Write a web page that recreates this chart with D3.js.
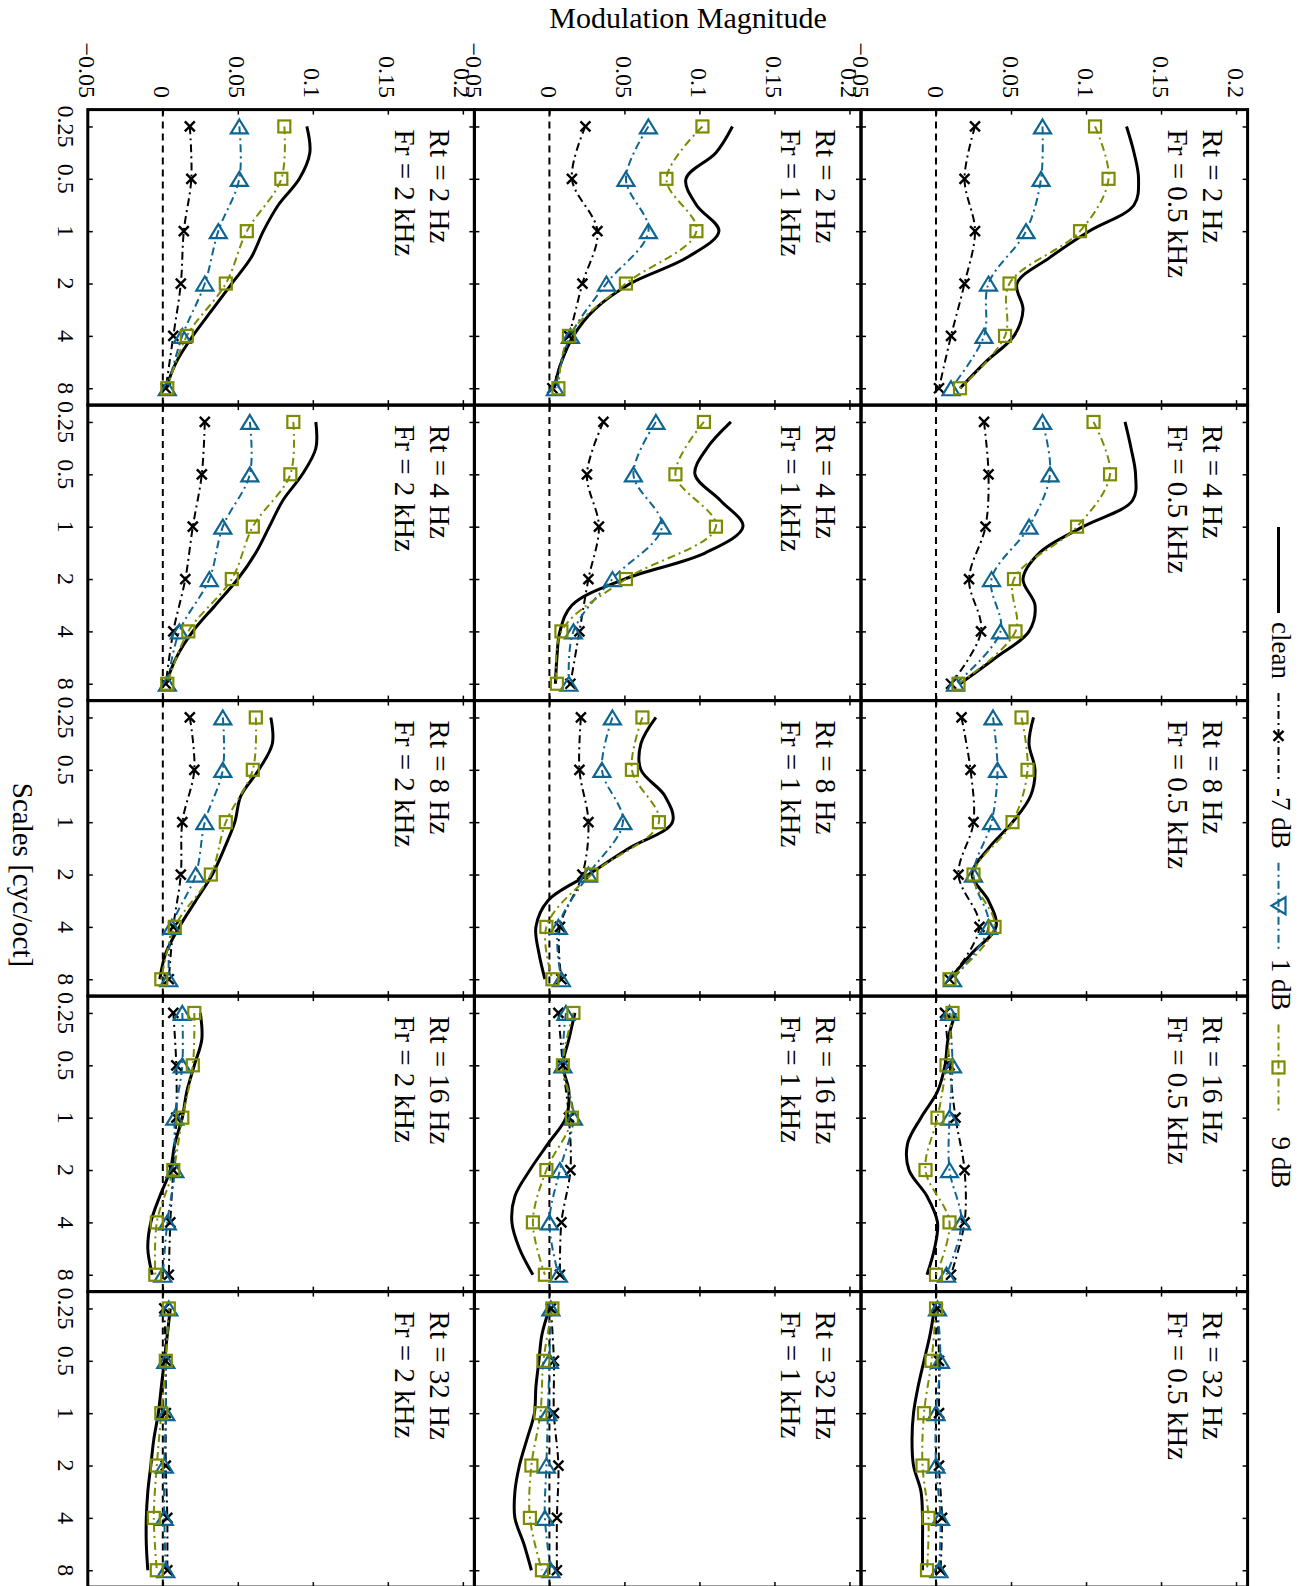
<!DOCTYPE html>
<html>
<head>
<meta charset="utf-8">
<script src="https://cdn.jsdelivr.net/npm/d3@7"></script>
<style>
    body { margin: 0; background: #fff; }
    text { font-family: "Liberation Serif", "Times New Roman", serif; fill: #000; }
</style>
</head>
<body>
<svg id="chart" width="1311" height="1586"></svg>
<script>
// Scales (cyc/oct) where the noisy conditions were measured, and the denser grid of the clean curve
var scales = [0.25, 0.5, 1, 2, 4, 8];
var cleanScales = [0.25, 0.354, 0.5, 0.707, 1, 1.414, 2, 2.828, 4, 5.657, 8];
var scaleLabels = ['0.25', '0.5', '1', '2', '4', '8'];

var rtLabels = ['Rt = 2 Hz', 'Rt = 4 Hz', 'Rt = 8 Hz', 'Rt = 16 Hz', 'Rt = 32 Hz'];
var frLabels = ['Fr = 0.5 kHz', 'Fr = 1 kHz', 'Fr = 2 kHz'];

var magTicks = [-0.05, 0, 0.05, 0.1, 0.15, 0.2];
var magTickLabels = ['\u22120.05', '0', '0.05', '0.1', '0.15', '0.2'];

var seriesNames = ['clean', '-7 dB', '1 dB', '9 dB'];

// values indexed [Fr][Rt][scale]
var clean = [
    [
        [0.127, 0.132, 0.135, 0.132, 0.102, 0.076, 0.054, 0.058, 0.052, 0.033, 0.016],
        [0.126, 0.130, 0.133, 0.131, 0.098, 0.069, 0.058, 0.066, 0.062, 0.040, 0.016],
        [0.065, 0.062, 0.066, 0.063, 0.051, 0.035, 0.024, 0.035, 0.040, 0.024, 0.009],
        [0.013, 0.008, 0.006, 0.001, -0.010, -0.019, -0.018, -0.006, 0.001, -0.001, -0.006],
        [-0.001, -0.004, -0.008, -0.012, -0.015, -0.016, -0.015, -0.010, -0.009, -0.009, -0.009]
    ],
    [
        [0.122, 0.111, 0.091, 0.098, 0.113, 0.092, 0.054, 0.030, 0.016, 0.008, 0.003],
        [0.121, 0.105, 0.097, 0.114, 0.129, 0.104, 0.050, 0.015, 0.007, 0.005, 0.004],
        [0.071, 0.061, 0.061, 0.077, 0.082, 0.053, 0.026, -0.001, -0.009, -0.007, -0.003],
        [0.017, 0.013, 0.009, 0.013, 0.011, -0.001, -0.013, -0.023, -0.025, -0.020, -0.011],
        [0.000, -0.005, -0.007, -0.009, -0.010, -0.015, -0.020, -0.023, -0.023, -0.017, -0.012]
    ],
    [
        [0.096, 0.098, 0.091, 0.077, 0.067, 0.059, 0.046, 0.033, 0.020, 0.009, 0.002],
        [0.102, 0.102, 0.093, 0.080, 0.071, 0.062, 0.050, 0.035, 0.020, 0.009, 0.002],
        [0.072, 0.073, 0.064, 0.052, 0.048, 0.041, 0.033, 0.022, 0.011, 0.002, -0.002],
        [0.025, 0.026, 0.021, 0.016, 0.013, 0.008, 0.005, -0.002, -0.008, -0.010, -0.007],
        [0.005, 0.003, 0.001, -0.001, -0.003, -0.006, -0.008, -0.010, -0.011, -0.011, -0.010]
    ]
];

var minus7dB = [
    [
        [0.026, 0.019, 0.026, 0.019, 0.010, 0.002],
        [0.032, 0.035, 0.033, 0.022, 0.030, 0.010],
        [0.017, 0.023, 0.025, 0.015, 0.029, 0.009],
        [0.006, 0.009, 0.013, 0.019, 0.019, 0.010],
        [0.001, 0.002, 0.002, 0.002, 0.004, 0.003]
    ],
    [
        [0.024, 0.015, 0.032, 0.022, 0.013, 0.002],
        [0.036, 0.025, 0.033, 0.026, 0.020, 0.014],
        [0.021, 0.020, 0.026, 0.022, 0.007, 0.008],
        [0.006, 0.009, 0.013, 0.014, 0.008, 0.007],
        [0.001, 0.003, 0.003, 0.006, 0.005, 0.005]
    ],
    [
        [0.018, 0.019, 0.014, 0.012, 0.007, 0.002],
        [0.028, 0.026, 0.020, 0.015, 0.007, 0.002],
        [0.018, 0.021, 0.013, 0.012, 0.007, 0.004],
        [0.007, 0.009, 0.009, 0.007, 0.005, 0.004],
        [0.001, 0.002, 0.002, 0.002, 0.003, 0.003]
    ]
];

var plus1dB = [
    [
        [0.071, 0.070, 0.060, 0.035, 0.032, 0.010],
        [0.071, 0.076, 0.062, 0.037, 0.043, 0.013],
        [0.038, 0.041, 0.037, 0.025, 0.035, 0.011],
        [0.009, 0.011, 0.009, 0.009, 0.017, 0.007],
        [0.001, 0.003, 0.000, 0.000, 0.003, 0.002]
    ],
    [
        [0.066, 0.051, 0.066, 0.038, 0.014, 0.004],
        [0.071, 0.056, 0.075, 0.042, 0.016, 0.013],
        [0.042, 0.035, 0.049, 0.026, 0.006, 0.008],
        [0.011, 0.009, 0.016, 0.007, 0.000, 0.006],
        [0.001, 0.000, -0.001, -0.002, -0.003, 0.001]
    ],
    [
        [0.051, 0.051, 0.037, 0.028, 0.013, 0.003],
        [0.058, 0.058, 0.040, 0.031, 0.011, 0.003],
        [0.040, 0.040, 0.028, 0.022, 0.006, 0.004],
        [0.013, 0.013, 0.008, 0.008, 0.003, 0.000],
        [0.004, 0.002, 0.002, 0.001, 0.001, 0.002]
    ]
];

var plus9dB = [
    [
        [0.106, 0.115, 0.096, 0.049, 0.046, 0.016],
        [0.105, 0.116, 0.094, 0.052, 0.053, 0.015],
        [0.057, 0.061, 0.051, 0.025, 0.039, 0.009],
        [0.011, 0.007, 0.001, -0.007, 0.009, 0.000],
        [0.000, -0.003, -0.008, -0.009, -0.005, -0.006]
    ],
    [
        [0.102, 0.078, 0.098, 0.051, 0.013, 0.006],
        [0.103, 0.084, 0.111, 0.051, 0.008, 0.005],
        [0.062, 0.055, 0.073, 0.028, -0.002, 0.002],
        [0.016, 0.009, 0.015, -0.002, -0.011, -0.003],
        [0.002, -0.004, -0.006, -0.012, -0.013, -0.005]
    ],
    [
        [0.081, 0.079, 0.056, 0.042, 0.016, 0.003],
        [0.087, 0.085, 0.060, 0.046, 0.017, 0.003],
        [0.062, 0.060, 0.042, 0.032, 0.008, -0.001],
        [0.021, 0.020, 0.013, 0.007, -0.004, -0.005],
        [0.004, 0.002, -0.001, -0.004, -0.006, -0.004]
    ]
];

// The figure is drawn turned a quarter clockwise: magnitude runs left to right,
// scale runs top to bottom, Fr columns go right to left.
var o = {
    colLeft: 87.8,
    colW: 386.6,
    rowTop: 109.6,
    rowH: 295.5,
    tick: 5
};

var blue = '#0e6591';
var olive = '#7d8b00';

var styles = [
    {color: '#000', width: 3, dash: null, marker: null},
    {color: '#000', width: 2, dash: '8,4,2,4', marker: 'x'},
    {color: blue, width: 2, dash: '8,4,2,4', marker: 'tri'},
    {color: olive, width: 2, dash: '8,4,2,4', marker: 'sq'}
];

var svg = d3.select('#chart');

function drawMarker(g, type, color, x, y, legend) {
    if (type === 'x') {
        g.append('path')
            .attr('d', 'M-5,-5L5,5M-5,5L5,-5')
            .attr('transform', 'translate(' + x + ',' + y + ')')
            .attr('stroke', color).attr('stroke-width', 2.4).attr('fill', 'none');
    } else if (type === 'tri') {
        // legend triangle points the other way in the reference
        var d = legend ? 'M-7,0L7,-8.5L7,8.5Z' : 'M0,-7L8.5,7L-8.5,7Z';
        g.append('path')
            .attr('d', d)
            .attr('transform', 'translate(' + x + ',' + y + ')')
            .attr('stroke', color).attr('stroke-width', 2.2).attr('fill', 'none');
    } else if (type === 'sq') {
        g.append('rect')
            .attr('x', x - 6).attr('y', y - 6)
            .attr('width', 12).attr('height', 12)
            .attr('stroke', color).attr('stroke-width', 2.2).attr('fill', 'none');
    }
}

function panel(fi, ri) {
    var left = o.colLeft + (2 - fi) * o.colW;
    var top = o.rowTop + ri * o.rowH;

    var mag = d3.scaleLinear().domain([-0.05, 0.2077]).range([left, left + o.colW]);
    var sc = d3.scaleLog().base(2).domain([0.2, 10]).range([top, top + o.rowH]);

    var g = svg.append('g');

    // inward ticks on all sides
    g.append('g').attr('transform', 'translate(0,' + top + ')')
        .call(d3.axisTop(mag).tickValues(magTicks).tickSize(-o.tick).tickFormat(''));
    g.append('g').attr('transform', 'translate(0,' + (top + o.rowH) + ')')
        .call(d3.axisBottom(mag).tickValues(magTicks).tickSize(-o.tick).tickFormat(''));
    g.append('g').attr('transform', 'translate(' + left + ',0)')
        .call(d3.axisLeft(sc).tickValues(scales).tickSize(-o.tick).tickFormat(''));
    g.append('g').attr('transform', 'translate(' + (left + o.colW) + ',0)')
        .call(d3.axisRight(sc).tickValues(scales).tickSize(-o.tick).tickFormat(''));
    g.selectAll('.domain').remove();
    g.selectAll('.tick line').attr('stroke', '#000').attr('stroke-width', 1.5);

    // zero line
    g.append('line')
        .attr('x1', mag(0)).attr('x2', mag(0))
        .attr('y1', top).attr('y2', top + o.rowH)
        .attr('stroke', '#000').attr('stroke-width', 2)
        .attr('stroke-dasharray', '7,5');

    var line = d3.line()
        .x(function(d) { return mag(d[1]); })
        .y(function(d) { return sc(d[0]); })
        .curve(d3.curveCatmullRom.alpha(0.5));

    var sets = [
        d3.zip(cleanScales, clean[fi][ri]),
        d3.zip(scales, minus7dB[fi][ri]),
        d3.zip(scales, plus1dB[fi][ri]),
        d3.zip(scales, plus9dB[fi][ri])
    ];

    sets.forEach(function(pts, k) {
        var s = styles[k];
        g.append('path')
            .attr('d', line(pts))
            .attr('fill', 'none')
            .attr('stroke', s.color)
            .attr('stroke-width', s.width)
            .attr('stroke-dasharray', s.dash);
    });
    sets.forEach(function(pts, k) {
        var s = styles[k];
        if (!s.marker) return;
        pts.forEach(function(d) {
            drawMarker(g, s.marker, s.color, mag(d[1]), sc(d[0]), false);
        });
    });

    g.append('rect')
        .attr('x', left).attr('y', top)
        .attr('width', o.colW).attr('height', o.rowH)
        .attr('fill', 'none').attr('stroke', '#000').attr('stroke-width', 3);

    g.append('text')
        .attr('transform', 'translate(' + (left + o.colW - 44.6) + ',' + (top + 20) + ') rotate(90)')
        .style('font-size', '29px')
        .text(rtLabels[ri]);
    g.append('text')
        .attr('transform', 'translate(' + (left + o.colW - 79.6) + ',' + (top + 20) + ') rotate(90)')
        .style('font-size', '29px')
        .text(frLabels[fi]);

    // magnitude labels along the top row only
    if (ri === 0) {
        magTicks.forEach(function(v, i) {
            svg.append('text')
                .attr('transform', 'translate(' + mag(v) + ',98) rotate(90)')
                .attr('text-anchor', 'end')
                .attr('dy', '0.35em')
                .style('font-size', '24px')
                .text(magTickLabels[i]);
        });
    }
    // scale labels along the left column only
    if (fi === 2) {
        scales.forEach(function(s, i) {
            svg.append('text')
                .attr('transform', 'translate(58,' + sc(s) + ') rotate(90)')
                .attr('text-anchor', 'middle')
                .style('font-size', '24px')
                .text(scaleLabels[i]);
        });
    }
}

for (var fi = 0; fi < 3; fi++) {
    for (var ri = 0; ri < 5; ri++) {
        panel(fi, ri);
    }
}

svg.append('text')
    .attr('x', 688).attr('y', 28)
    .attr('text-anchor', 'middle')
    .style('font-size', '30px')
    .text('Modulation Magnitude');

svg.append('text')
    .attr('transform', 'translate(13,875) rotate(90)')
    .attr('text-anchor', 'middle')
    .style('font-size', '29px')
    .text('Scales [cyc/oct]');

// legend, laid out along the right edge
var legendX = 1278.5, sampleLen = 86;
var textGap = [9, 9, 10, 26];
var ly = 527;
seriesNames.forEach(function(name, k) {
    var s = styles[k];
    var lg = svg.append('g');
    lg.append('line')
        .attr('x1', legendX).attr('x2', legendX)
        .attr('y1', ly).attr('y2', ly + sampleLen)
        .attr('stroke', s.color).attr('stroke-width', s.width)
        .attr('stroke-dasharray', s.dash);
    if (s.marker) drawMarker(lg, s.marker, s.color, legendX, ly + sampleLen / 2, true);
    var t = lg.append('text')
        .attr('transform', 'translate(' + legendX + ',' + (ly + sampleLen + textGap[k]) + ') rotate(90)')
        .attr('dy', '0.25em')
        .style('font-size', '27px')
        .text(name);
    ly += sampleLen + textGap[k] + t.node().getComputedTextLength() + 14;
});
</script>
</body>
</html>
